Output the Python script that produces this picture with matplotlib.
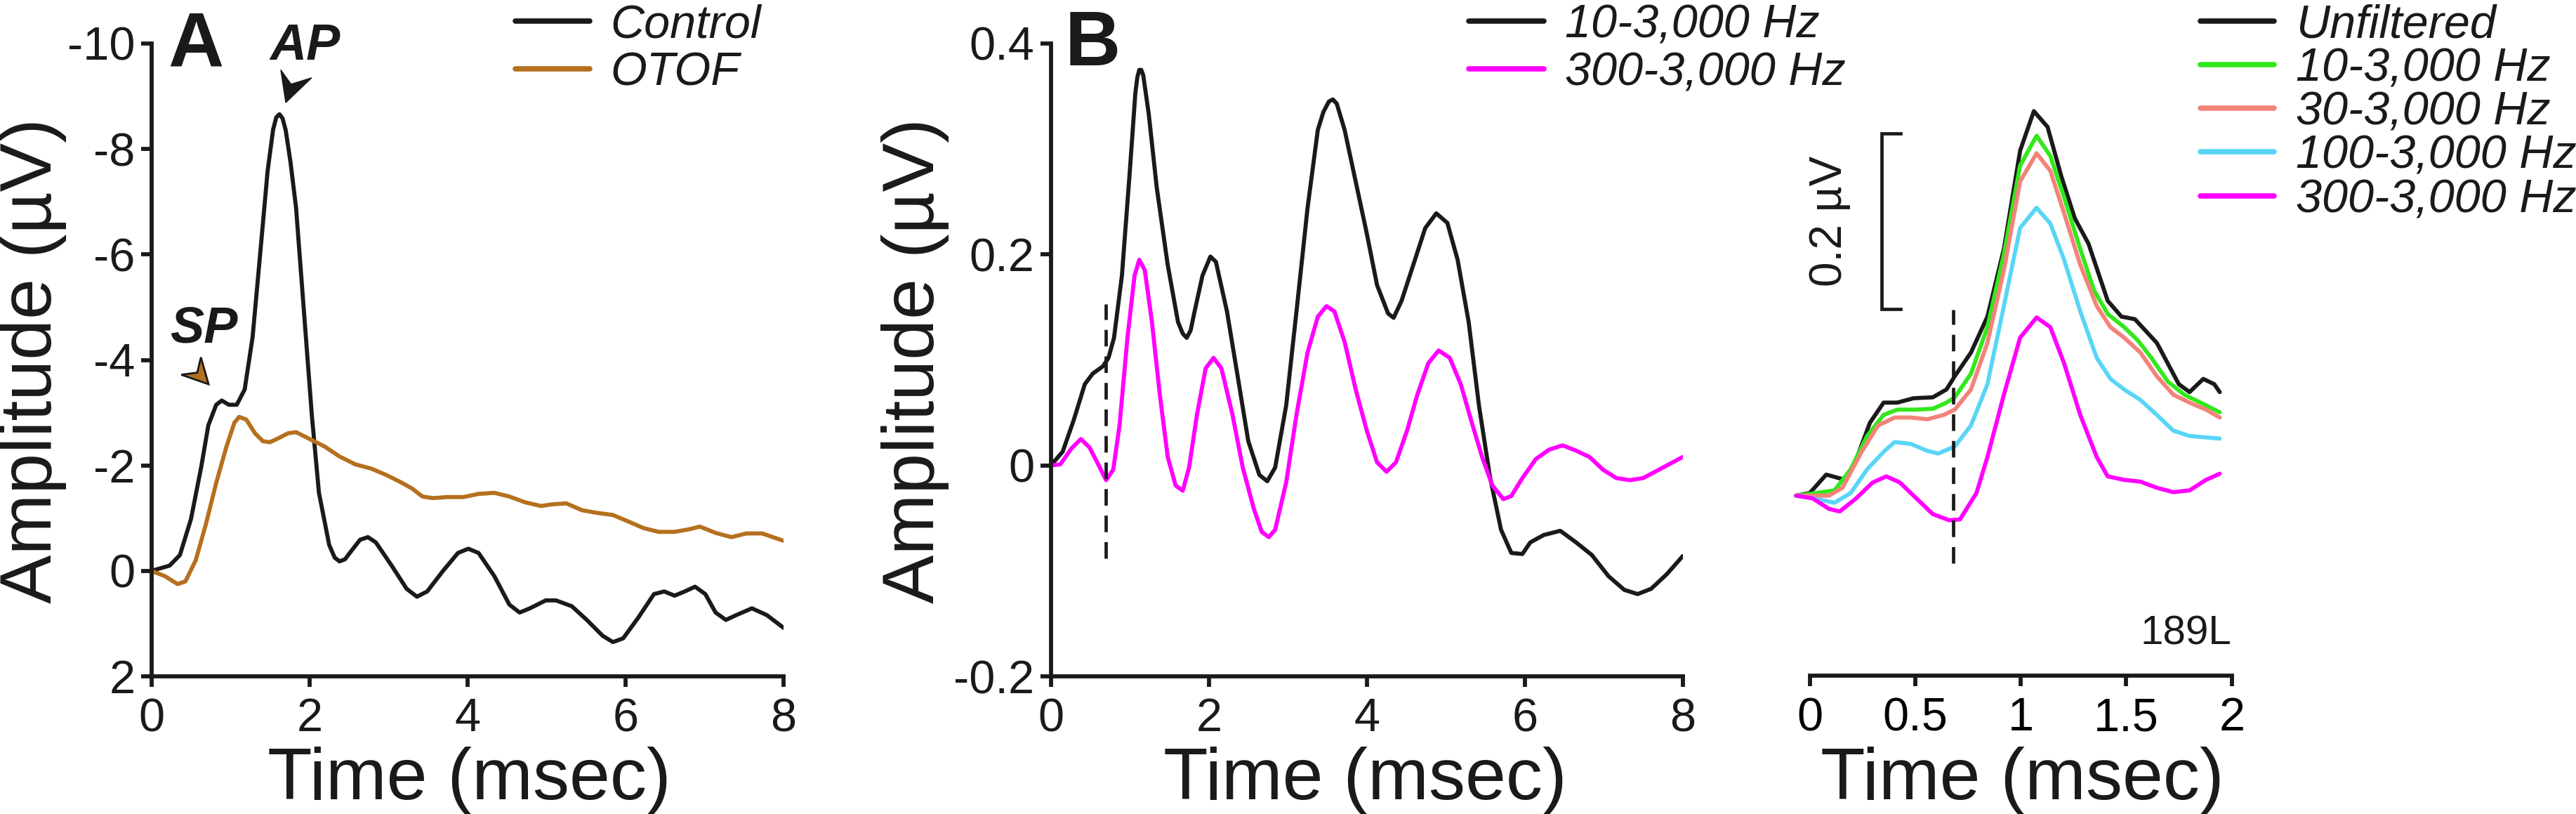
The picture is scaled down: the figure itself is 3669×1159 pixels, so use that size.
import matplotlib
matplotlib.use("Agg")
import matplotlib.pyplot as plt
from matplotlib.lines import Line2D
from matplotlib.patches import Polygon

plt.rcParams['font.family'] = ['Liberation Sans', 'DejaVu Sans']
plt.rcParams['axes.unicode_minus'] = False

# ---------------- Panel A data (msec, µV) ----------------
a_time_control = [0.0, 0.23, 0.36, 0.50, 0.63, 0.72, 0.82, 0.89, 0.98, 1.08, 1.18, 1.28, 1.37, 1.47,
                  1.54, 1.58, 1.62, 1.66, 1.70, 1.76, 1.83, 1.93, 2.03, 2.12, 2.25, 2.32, 2.38, 2.45,
                  2.51, 2.64, 2.74, 2.84,
                  3.04, 3.23, 3.36, 3.49, 3.69, 3.88, 4.01, 4.14, 4.34, 4.53, 4.66, 4.79, 4.99, 5.12,
                  5.32, 5.51, 5.71, 5.84, 5.97, 6.16, 6.36, 6.49, 6.62, 6.75, 6.88, 7.01, 7.14, 7.27,
                  7.40, 7.60, 7.79, 8.0]
a_control = [0.0, -0.10, -0.30, -0.98, -1.97, -2.76, -3.15, -3.23, -3.15, -3.15, -3.44, -4.43, -5.91,
             -7.58, -8.37, -8.60, -8.66, -8.58, -8.35, -7.75, -6.89, -4.92, -2.95, -1.48, -0.49, -0.25,
             -0.18, -0.22, -0.34, -0.59,
             -0.64, -0.54, -0.10, 0.34, 0.49, 0.39, 0.0, -0.34, -0.42, -0.34, 0.10, 0.64, 0.79, 0.71,
             0.56, 0.56, 0.67, 0.93, 1.23, 1.35, 1.28, 0.89, 0.44, 0.39, 0.47, 0.39, 0.30, 0.44, 0.79,
             0.93, 0.84, 0.71, 0.84, 1.08]
a_time_otof = [0.0, 0.17, 0.33, 0.43, 0.56, 0.69, 0.82, 0.95, 1.05, 1.11, 1.20, 1.31, 1.41, 1.50, 1.60,
               1.73, 1.83, 1.99, 2.19, 2.38, 2.58, 2.78, 2.97, 3.17, 3.30, 3.43, 3.56, 3.75, 3.95, 4.14,
               4.34, 4.53, 4.73, 4.93, 5.06, 5.25, 5.45, 5.64, 5.84, 6.03, 6.23, 6.42, 6.62, 6.81, 6.94,
               7.14, 7.34, 7.53, 7.73, 8.0]
a_otof = [0.0, 0.10, 0.25, 0.20, -0.20, -0.89, -1.67, -2.36, -2.81, -2.92, -2.87, -2.61, -2.46, -2.44,
          -2.51, -2.61, -2.63, -2.51, -2.36, -2.17, -2.02, -1.94, -1.82, -1.67, -1.56, -1.41, -1.38,
          -1.40, -1.40, -1.46, -1.48, -1.41, -1.30, -1.23, -1.26, -1.28, -1.15, -1.10, -1.06, -0.94,
          -0.81, -0.74, -0.74, -0.79, -0.84, -0.72, -0.64, -0.71, -0.71, -0.57]
a_labels = ["Control", "OTOF"]
a_yticks = [-10, -8, -6, -4, -2, 0, 2]
a_xticks = [0, 2, 4, 6, 8]

# ---------------- Panel B data ----------------
b_time_10 = [0.0, 0.15, 0.29, 0.43, 0.53, 0.66, 0.73, 0.80, 0.90, 1.00, 1.07, 1.095, 1.12, 1.145, 1.17,
             1.24, 1.34, 1.48, 1.61, 1.67, 1.72, 1.77, 1.82, 1.92, 2.02, 2.09, 2.23, 2.36, 2.50, 2.64,
             2.74, 2.84, 2.98, 3.11, 3.25, 3.38, 3.45, 3.52, 3.57, 3.62, 3.72, 3.86, 4.00, 4.13, 4.27,
             4.34, 4.44, 4.61, 4.74, 4.88, 5.02, 5.15, 5.29, 5.42, 5.56, 5.70, 5.83, 5.97, 6.07, 6.24,
             6.45, 6.65, 6.85, 7.06, 7.26, 7.43, 7.60, 7.80, 8.0]
b_amp_10 = [0.000, 0.013, 0.043, 0.077, 0.087, 0.094, 0.102, 0.121, 0.180, 0.279, 0.353, 0.368, 0.375,
            0.375, 0.370, 0.333, 0.264, 0.190, 0.136, 0.125, 0.121, 0.128, 0.146, 0.180, 0.198, 0.193,
            0.146, 0.087, 0.023, -0.009, -0.015, -0.002, 0.057, 0.146, 0.244, 0.318, 0.335, 0.345,
            0.347, 0.343, 0.318, 0.269, 0.220, 0.171, 0.144, 0.140, 0.156, 0.195, 0.225, 0.239, 0.230,
            0.195, 0.136, 0.057, -0.011, -0.061, -0.083, -0.084, -0.073, -0.066, -0.062, -0.073,
            -0.085, -0.105, -0.118, -0.122, -0.117, -0.103, -0.086]
b_time_300 = [0.0, 0.12, 0.26, 0.38, 0.49, 0.60, 0.70, 0.79, 0.87, 0.97, 1.06, 1.12, 1.19, 1.28, 1.38,
              1.48, 1.58, 1.67, 1.75, 1.85, 1.96, 2.06, 2.16, 2.30, 2.43, 2.57, 2.67, 2.76, 2.84, 2.98,
              3.11, 3.25, 3.38, 3.49, 3.59, 3.72, 3.86, 4.00, 4.13, 4.25, 4.37, 4.51, 4.64, 4.78, 4.91,
              5.05, 5.19, 5.32, 5.46, 5.59, 5.73, 5.83, 5.97, 6.14, 6.31, 6.48, 6.65, 6.82, 6.99, 7.16,
              7.33, 7.50, 7.70, 8.0]
b_amp_300 = [0.0, 0.001, 0.016, 0.025, 0.017, 0.001, -0.014, -0.004, 0.038, 0.121, 0.180, 0.195, 0.185,
             0.136, 0.067, 0.008, -0.019, -0.024, -0.002, 0.048, 0.092, 0.102, 0.092, 0.048, -0.002,
             -0.041, -0.063, -0.068, -0.061, -0.016, 0.048, 0.107, 0.141, 0.151, 0.146, 0.117, 0.072,
             0.033, 0.003, -0.006, 0.003, 0.033, 0.067, 0.097, 0.109, 0.102, 0.077, 0.043, 0.008,
             -0.019, -0.032, -0.029, -0.012, 0.006, 0.015, 0.019, 0.014, 0.008, -0.004, -0.012, -0.014,
             -0.012, -0.004, 0.008]
b_labels = ["10-3,000 Hz", "300-3,000 Hz"]
b_yticks = [-0.2, 0, 0.2, 0.4]
b_yticklabels = ["-0.2", "0", "0.2", "0.4"]
b_xticks = [0, 2, 4, 6, 8]
b_marker_time = 0.70
b_marker_range = [-0.088, 0.153]

# ---------------- Panel C data ----------------
c_time_unf = [-0.065, 0.0, 0.078, 0.168, 0.22, 0.285, 0.35, 0.415, 0.492, 0.583, 0.648, 0.687, 0.764,
              0.842, 0.92, 0.997, 1.062, 1.127, 1.192, 1.256, 1.321, 1.412, 1.477, 1.541, 1.645, 1.749,
              1.80, 1.865, 1.917, 1.943]
c_unf = [0.0, 0.003, 0.024, 0.018, 0.041, 0.083, 0.106, 0.106, 0.111, 0.112, 0.121, 0.136, 0.163, 0.204,
         0.281, 0.393, 0.438, 0.42, 0.364, 0.316, 0.287, 0.222, 0.204, 0.201, 0.174, 0.127, 0.118, 0.133,
         0.127, 0.118]
c_time_10 = [-0.065, 0.0, 0.117, 0.194, 0.272, 0.35, 0.415, 0.505, 0.583, 0.648, 0.687, 0.764, 0.842,
             0.92, 0.997, 1.075, 1.14, 1.205, 1.282, 1.347, 1.412, 1.49, 1.554, 1.619, 1.697, 1.775,
             1.852, 1.943]
c_10 = [0.0, 0.002, 0.006, 0.030, 0.068, 0.092, 0.098, 0.098, 0.099, 0.106, 0.112, 0.139, 0.192, 0.275,
        0.376, 0.410, 0.387, 0.340, 0.281, 0.234, 0.207, 0.192, 0.177, 0.157, 0.130, 0.115, 0.106, 0.095]
c_time_30 = [-0.065, 0.013, 0.091, 0.155, 0.246, 0.324, 0.402, 0.479, 0.557, 0.635, 0.687, 0.764, 0.842,
             0.92, 0.997, 1.075, 1.14, 1.205, 1.282, 1.36, 1.425, 1.49, 1.567, 1.645, 1.723, 1.80,
             1.878, 1.943]
c_30 = [0.0, 0.0, 0.0, 0.009, 0.050, 0.080, 0.089, 0.089, 0.087, 0.092, 0.098, 0.121, 0.174, 0.257,
        0.358, 0.390, 0.370, 0.322, 0.263, 0.216, 0.192, 0.180, 0.163, 0.136, 0.115, 0.106, 0.098, 0.089]
c_time_100 = [-0.065, 0.013, 0.117, 0.194, 0.272, 0.35, 0.402, 0.479, 0.557, 0.609, 0.687, 0.764, 0.842,
              0.92, 0.997, 1.075, 1.14, 1.205, 1.282, 1.36, 1.425, 1.49, 1.567, 1.645, 1.723, 1.80, 1.943]
c_100 = [0.0, -0.003, -0.008, 0.003, 0.030, 0.050, 0.061, 0.059, 0.051, 0.048, 0.056, 0.080, 0.127,
         0.216, 0.305, 0.328, 0.310, 0.269, 0.210, 0.157, 0.133, 0.121, 0.109, 0.092, 0.074, 0.068, 0.065]
c_time_300 = [-0.065, 0.013, 0.091, 0.142, 0.22, 0.298, 0.363, 0.427, 0.505, 0.583, 0.661, 0.712, 0.790,
              0.842, 0.92, 0.997, 1.075, 1.14, 1.205, 1.282, 1.36, 1.412, 1.49, 1.567, 1.645, 1.723,
              1.80, 1.878, 1.943]
c_300 = [0.0, -0.003, -0.015, -0.018, -0.003, 0.015, 0.022, 0.015, -0.003, -0.021, -0.028, -0.027, 0.003,
         0.044, 0.115, 0.180, 0.203, 0.192, 0.151, 0.092, 0.044, 0.022, 0.018, 0.016, 0.009, 0.004,
         0.006, 0.018, 0.025]
c_labels = ["Unfiltered", "10-3,000 Hz", "30-3,000 Hz", "100-3,000 Hz", "300-3,000 Hz"]
c_xticks = [0, 0.5, 1, 1.5, 2]
c_xticklabels = ["0", "0.5", "1", "1.5", "2"]
c_marker_time = 0.681
c_marker_range = [-0.077, 0.212]
c_scalebar = 0.2
c_id = "189L"

# ---------------- styling ----------------
BLACK = '#1a1a1a'
BROWN = '#b5701e'
MAGENTA = '#ff00ff'
GREEN = '#33e81a'
SALMON = '#f2837a'
CYAN = '#58d6f6'

W, H = 3669, 1159
def fx(p):
    return p / W
def fy(p):
    return 1 - p / H

fig = plt.figure(figsize=(W / 100, H / 100), dpi=100)

LW = 4.2
SPW = 4.2
TICKFS = 48
LABFS = 75

def style_axis(ax):
    for s in ['top', 'right']:
        ax.spines[s].set_visible(False)
    for s in ['left', 'bottom']:
        ax.spines[s].set_linewidth(SPW)
        ax.spines[s].set_color(BLACK)
    ax.tick_params(direction='out', length=10.8, width=SPW, color=BLACK, labelsize=TICKFS,
                   labelcolor=BLACK)
    ax.tick_params(axis='x', pad=11)
    ax.tick_params(axis='y', pad=6)

def trace(ax, t, v, col):
    ax.plot(t, v, color=col, lw=LW, solid_joinstyle='round', solid_capstyle='round')

# ---- Panel A ----
axA = fig.add_axes([fx(215.7), fy(963), (1116 - 215.7) / W, (963 - 62) / H])
trace(axA, a_time_control, a_control, BLACK)
trace(axA, a_time_otof, a_otof, BROWN)
axA.set_xlim(0, 8)
axA.set_ylim(2, -10)
axA.set_xticks(a_xticks)
axA.set_yticks(a_yticks)
axA.set_yticklabels([str(v) for v in a_yticks])
style_axis(axA)
# arrowheads
axA.add_patch(Polygon([[1.70, -8.88], [1.637, -9.50], [1.767, -9.23], [2.028, -9.35]],
                      closed=True, facecolor=BLACK, edgecolor=BLACK, lw=1, clip_on=False))
axA.add_patch(Polygon([[0.723, -3.54], [0.378, -3.72], [0.58, -3.76], [0.626, -4.05]],
                      closed=True, facecolor=BROWN, edgecolor=BLACK, lw=2.0, clip_on=False))
axA.text(1.50, -9.69, "AP", fontsize=52, fontweight='bold', fontstyle='italic', color=BLACK,
         ha='left', va='baseline')
axA.text(0.234, -4.33, "SP", fontsize=52, fontweight='bold', fontstyle='italic', color=BLACK,
         ha='left', va='baseline')

# ---- Panel B ----
axB = fig.add_axes([fx(1496.7), fy(963), 900 / W, (963 - 62) / H])
trace(axB, b_time_10, b_amp_10, BLACK)
trace(axB, b_time_300, b_amp_300, MAGENTA)
axB.plot([b_marker_time, b_marker_time], b_marker_range, color=BLACK, lw=3.4, ls=(0, (5, 3)))
axB.set_xlim(0, 8)
axB.set_ylim(-0.2, 0.4)
axB.set_xticks(b_xticks)
axB.set_yticks(b_yticks)
axB.set_yticklabels(b_yticklabels)
style_axis(axB)

# ---- Panel C ----
axC = fig.add_axes([fx(2547.6), fy(962), (3178.7 - 2547.6) / W, 900 / H])
for t, v, c in [(c_time_unf, c_unf, BLACK), (c_time_10, c_10, GREEN), (c_time_30, c_30, SALMON),
                (c_time_100, c_100, CYAN), (c_time_300, c_300, MAGENTA)]:
    trace(axC, t, v, c)
axC.plot([c_marker_time, c_marker_time], c_marker_range, color=BLACK, lw=3.4, ls=(0, (5, 3)))
axC.set_xlim(-0.1, 2.0)
axC.set_ylim(-0.205, 0.515)
for s in ['top', 'right', 'left']:
    axC.spines[s].set_visible(False)
axC.spines['bottom'].set_bounds(0, 2)
axC.spines['bottom'].set_linewidth(SPW)
axC.spines['bottom'].set_color(BLACK)
axC.set_yticks([])
axC.set_xticks(c_xticks)
axC.set_xticklabels(c_xticklabels)
axC.tick_params(axis='x', direction='out', length=10.8, width=SPW, color=BLACK, labelsize=TICKFS,
                pad=11)
# scale bar
sb_x, sb_y0 = 0.34, 0.213
axC.plot([0.43, sb_x, sb_x, 0.43], [sb_y0 + c_scalebar, sb_y0 + c_scalebar, sb_y0, sb_y0],
         color=BLACK, lw=3.4, solid_joinstyle='miter', clip_on=False)
axC.text(0.094, sb_y0 + c_scalebar / 2, "0.2 \u00b5V", rotation=90, fontsize=46, ha='center',
         va='center', color=BLACK)
axC.text(2.0, -0.169, c_id, fontsize=42, ha='right', va='baseline', color=BLACK)

# ---- axis labels ----
fig.text(fx(47), fy(514), "Amplitude (\u00b5V)", rotation=90, fontsize=LABFS, ha='center', va='center',
         color=BLACK)
fig.text(fx(1304), fy(514), "Amplitude (\u00b5V)", rotation=90, fontsize=LABFS, ha='center',
         va='center', color=BLACK)
for xc in [668, 1944, 2880]:
    fig.text(fx(xc), fy(1138), "Time (msec)", fontsize=LABFS, ha='center', va='baseline', color=BLACK)

# panel letters
fig.text(fx(239), fy(93), "A", fontsize=79, fontweight='bold', ha='left', va='baseline', color=BLACK)
fig.text(fx(1517), fy(93), "B", fontsize=79, fontweight='bold', ha='left', va='baseline', color=BLACK)

# ---- legends (manual) ----
LEGFS = 48
def legend(x0, x1, xt, rows, labels, colors):
    for y, lab, col in zip(rows, labels, colors):
        fig.add_artist(Line2D([fx(x0), fx(x1)], [fy(y), fy(y)], color=col, lw=5.5,
                              solid_capstyle='round', transform=fig.transFigure))
        fig.text(fx(xt), fy(y + 23.5), lab, fontsize=LEGFS, fontstyle='italic', ha='left',
                 va='baseline', color=BLACK)

legend(734, 840, 869, [29.6, 98], a_labels, [BLACK, BROWN])
legend(2092, 2199, 2229, [29.6, 98], b_labels, [BLACK, MAGENTA])
legend(3134, 3239, 3270, [29.6, 92.4, 153.7, 215.8, 278.6], c_labels,
       [BLACK, GREEN, SALMON, CYAN, MAGENTA])

fig.savefig("out.png", dpi=100, facecolor='white')
